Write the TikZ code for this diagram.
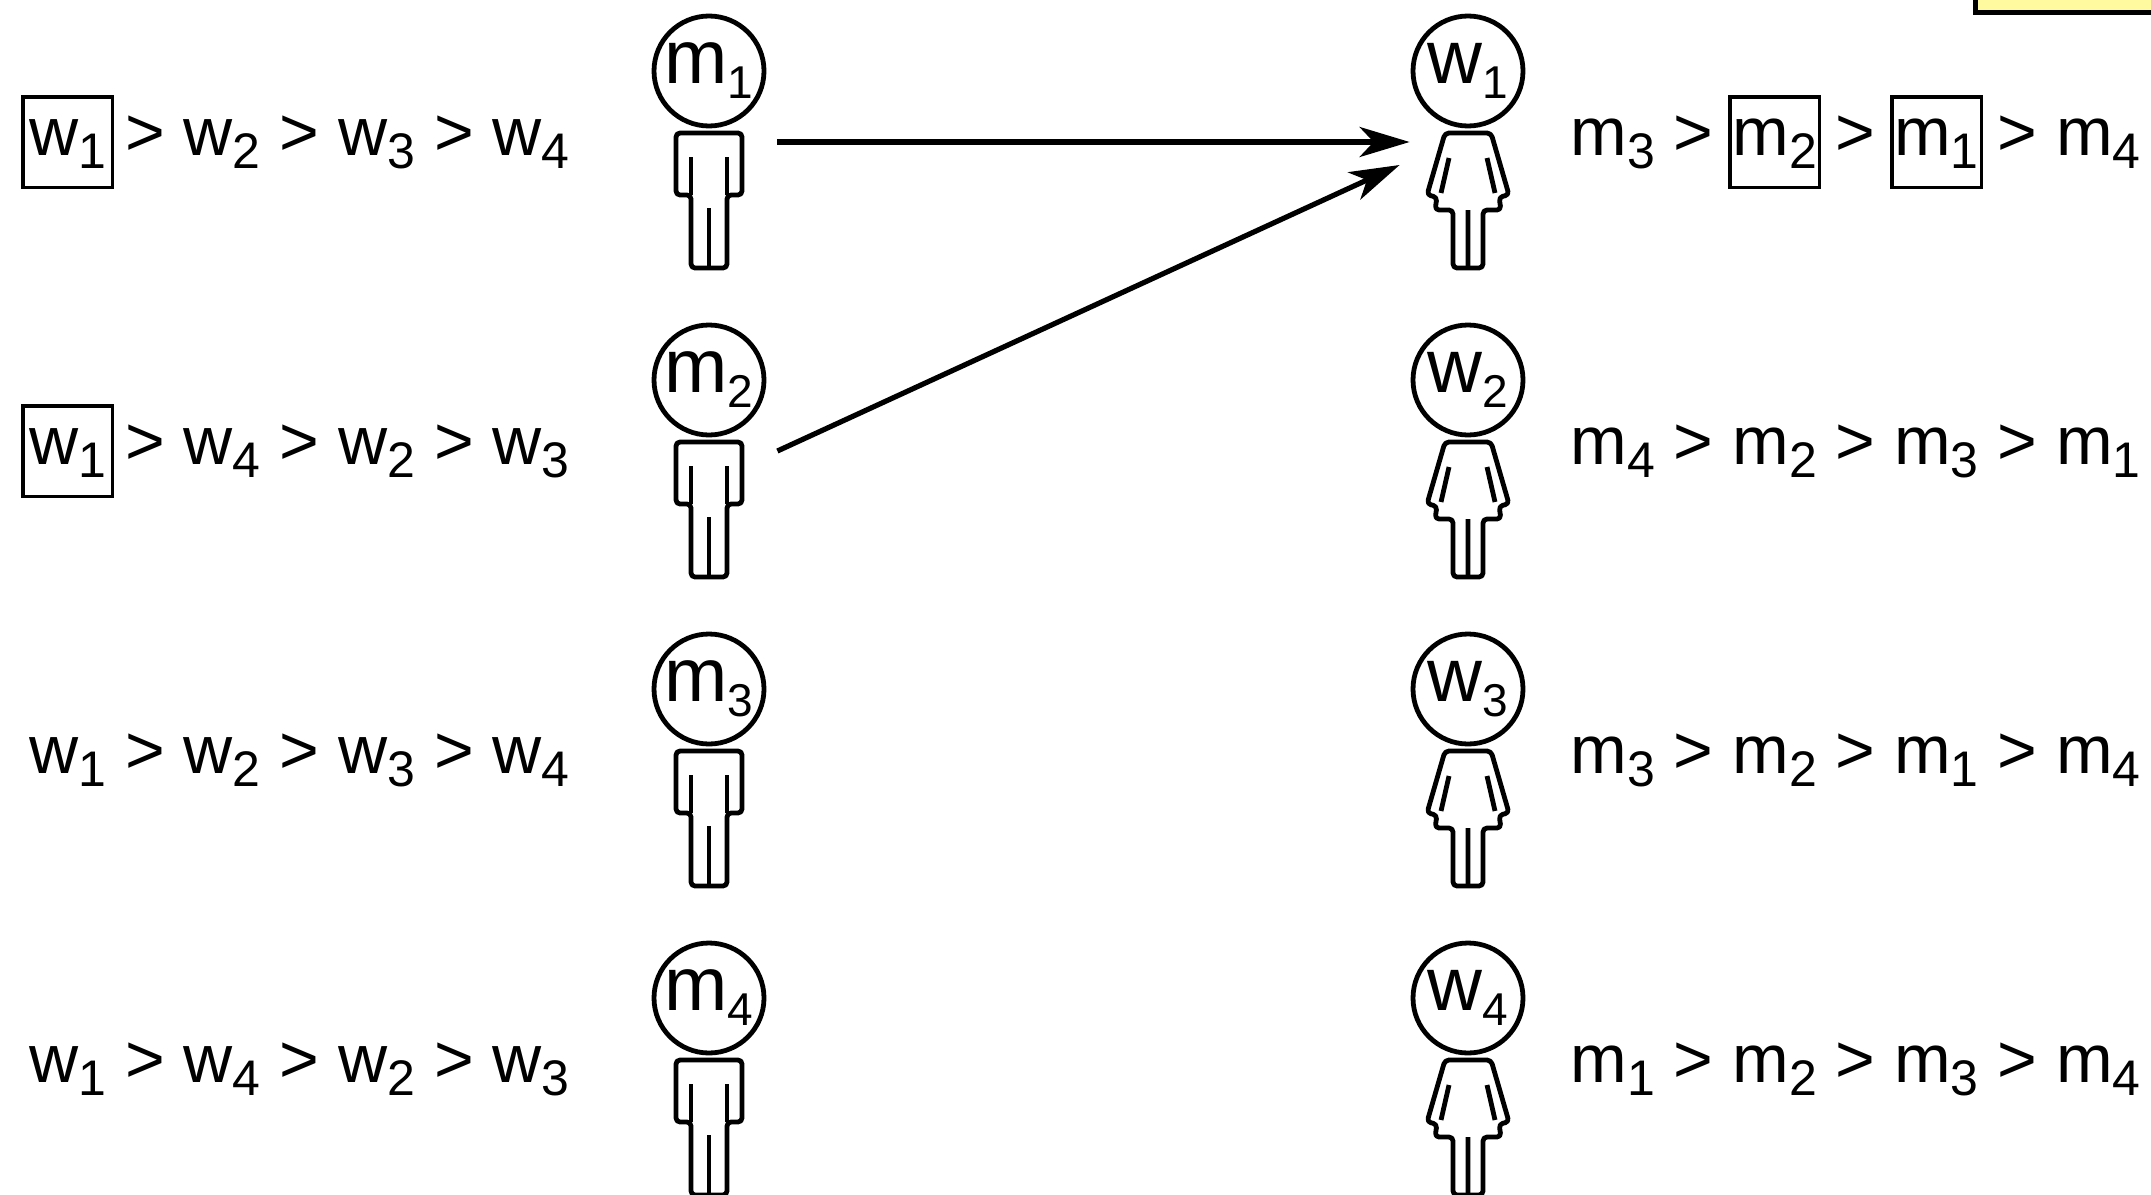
\documentclass[tikz,border=0pt]{standalone}
\usepackage{fontspec}
\setmainfont{Liberation Sans}
\usetikzlibrary{arrows.meta, positioning}

\definecolor{notefill}{RGB}{255,250,160}
\newsavebox{\chosenbox}
\newcommand{\low}[1]{\raisebox{-6.5pt}{\fontsize{25}{30}\selectfont #1}}
\newcommand{\headlow}[1]{\raisebox{-7.5pt}{\fontsize{23}{28}\selectfont #1}}
\newcommand{\chosen}[1]{\sbox{\chosenbox}{#1}\makebox[\wd\chosenbox]{{\setlength{\fboxsep}{0pt}\setlength{\fboxrule}{1.75pt}%
 \fbox{\makebox[43pt]{\rule[-15.25pt]{0pt}{43.5pt}\usebox{\chosenbox}}}}}}

\begin{document}
\begin{tikzpicture}[x=0.5pt,y=-0.5pt,
 every node/.style={font=\fontsize{34}{40}\selectfont},
 head node/.style={circle,draw,line width=2.4pt,minimum size=55pt,inner sep=0pt,
   font=\fontsize{38}{44}\selectfont},
 body node/.style={minimum height=67.5pt,inner sep=0pt},
 figure/.style={line width=2.4pt,line join=round,rounded corners=2pt},
 pref node/.style={inner sep=0pt},
 pref arrow/.style={-{Stealth[length=25pt,width=15pt,inset=7pt]},line width=2.6pt}]
 \useasboundingbox (0,0) rectangle (2151,1194);
 \draw[line width=2.5pt,fill=notefill] (1975,-40) rectangle (2200,12);

 % men
 \foreach \i/\pref in {1/{\chosen{w\low{1}} > w\low{2} > w\low{3} > w\low{4}},
   2/{\chosen{w\low{1}} > w\low{4} > w\low{2} > w\low{3}},
   3/{w\low{1} > w\low{2} > w\low{3} > w\low{4}},
   4/{w\low{1} > w\low{4} > w\low{2} > w\low{3}}}{
   \node[head node](m\i) at (709,{71+(\i-1)*309}) {m\headlow{\i}};
   \node[body node,minimum width=68pt](bm\i)[below=2.3pt of m\i]{};
   \draw[figure,shift={(bm\i.north)}] (-33,0) -- (33,0) -- (33,62) -- (18,62)
     -- (18,135) -- (-18,135) -- (-18,62) -- (-33,62) -- cycle;
   \draw[figure,shift={(bm\i.north)}] (-18,24) -- (-18,62) (18,24) -- (18,62) (0,75) -- (0,135);
   \node[pref node,anchor=base east](pm\i) at (570,{155+(\i-1)*309}) {\pref};}

 % women
 \foreach \i/\pref in {1/{m\low{3} > \chosen{m\low{2}} > \chosen{m\low{1}} > m\low{4}},
   2/{m\low{4} > m\low{2} > m\low{3} > m\low{1}},
   3/{m\low{3} > m\low{2} > m\low{1} > m\low{4}},
   4/{m\low{1} > m\low{2} > m\low{3} > m\low{4}}}{
   \node[head node](w\i) at (1468,{71+(\i-1)*309}) {w\headlow{\i}};
   \node[body node,minimum width=58pt](bw\i)[below=2.3pt of w\i]{};
   \draw[figure,shift={(bw\i.north)}] (-23,0) -- (23,0) -- (41,62) -- (31,64) -- (33,77)
     -- (15,77) -- (15,135) -- (-15,135) -- (-15,77) -- (-33,77) -- (-31,64) -- (-41,62) -- cycle;
   \draw[figure,shift={(bw\i.north)}] (-19,25) -- (-27,60) (19,25) -- (27,60) (0,77) -- (0,135);
   \node[pref node,anchor=base west](pw\i) at (1570,{155+(\i-1)*309}) {\pref};}

 \draw[pref arrow] ([yshift=-4.5pt]bm1.north east) -- ([yshift=-4.5pt]bw1.north west);
 \draw[pref arrow] ([yshift=-4.5pt]bm2.north east) -- ([xshift=-5pt,yshift=-16pt]bw1.north west);
\end{tikzpicture}
\end{document}
